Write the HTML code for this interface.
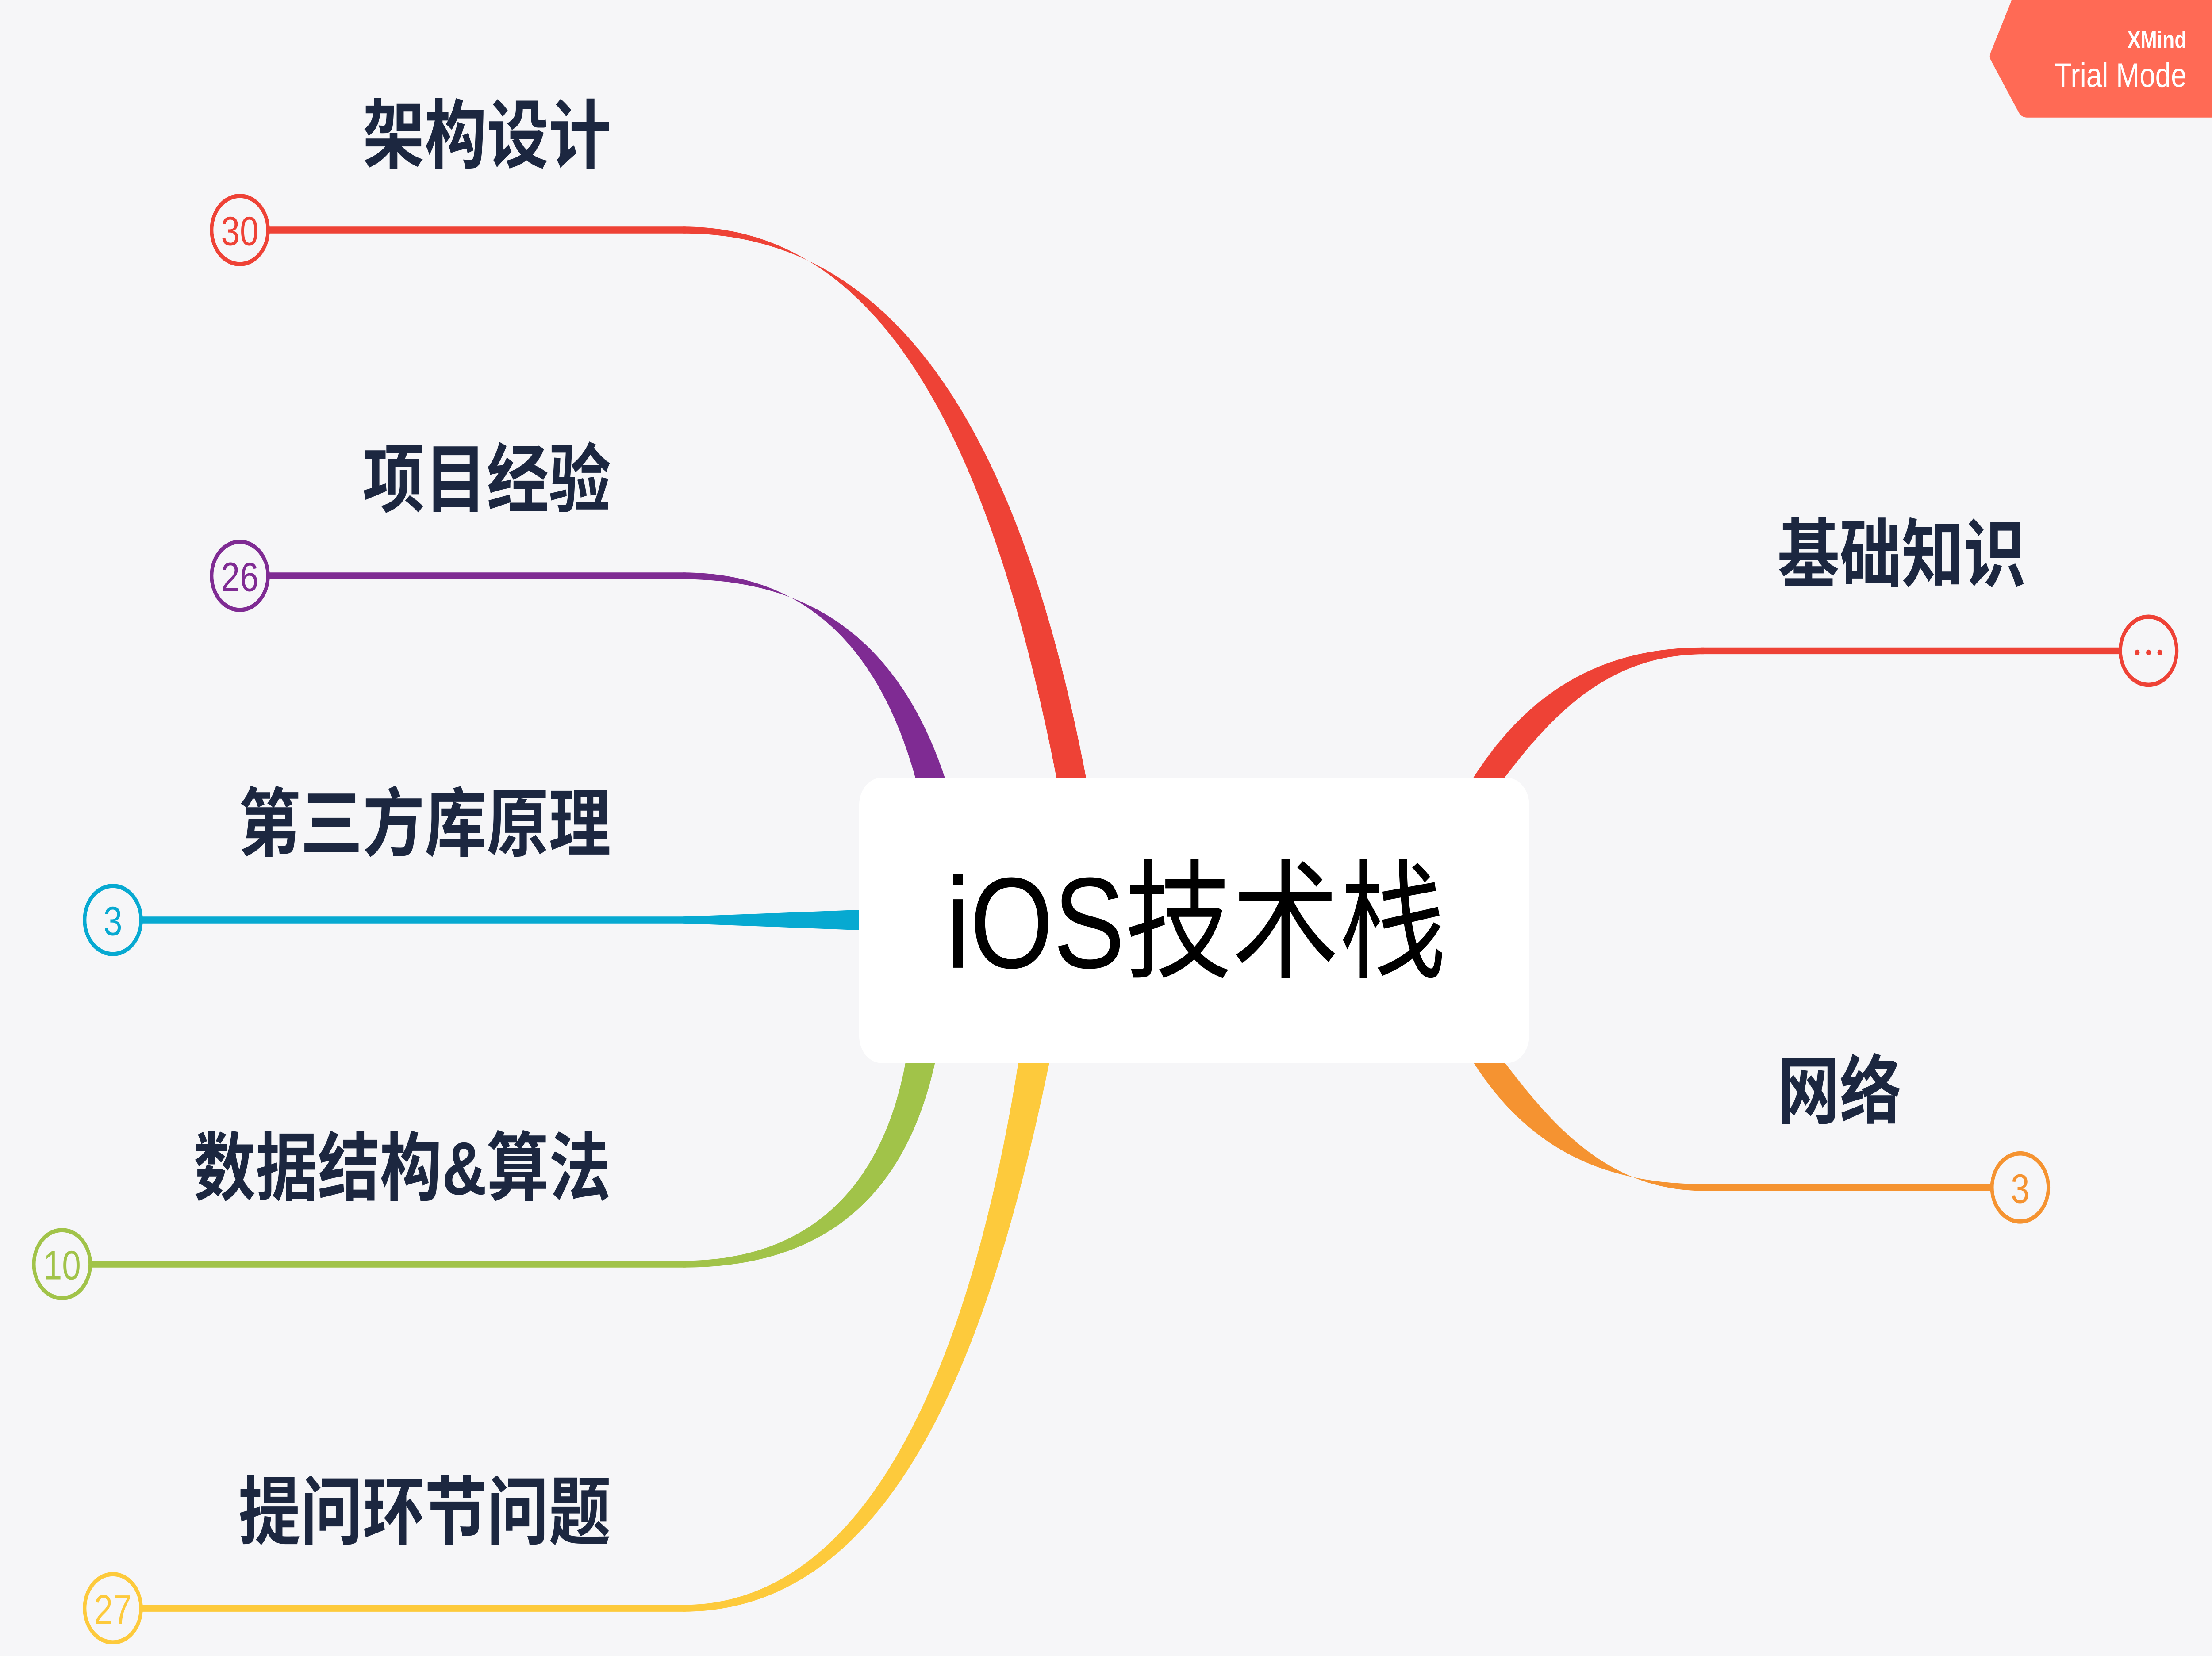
<!DOCTYPE html>
<html><head><meta charset="utf-8"><style>
html,body{margin:0;padding:0;background:#f6f6f8;width:100vw;height:100vh;overflow:hidden;}
svg{display:block;position:absolute;left:0;top:0;width:100vw;height:100vh;}
text{font-family:"Liberation Sans","Noto Sans CJK SC",sans-serif;}
</style></head><body>
<svg viewBox="0 0 1568 972" preserveAspectRatio="none" xmlns="http://www.w3.org/2000/svg">
<rect width="1568" height="972" fill="#f6f6f8"/>
<path d="M484,133 C620,133 700,250 749,457 L770,457 C722,250 632,137 484,137 Z" fill="#ee4236"/>
<path d="M484,336 C560,336 620,370 649,457 L670,457 C636,372 570,340 484,340 Z" fill="#7f2b93"/>
<path d="M484,538 L610,534 L610,546 L484,542 Z" fill="#07a9d1"/>
<path d="M484,740 C570,740 625,700 642,623 L663,623 C640,710 575,744 484,744 Z" fill="#a1c349"/>
<path d="M484,942 C620,942 690,790 722,623 L744,623 C700,800 630,946 484,946 Z" fill="#fdca3c"/>
<path d="M1208,380 C1130,380 1080,410 1044,457 L1066,457 C1100,420 1140,384 1208,384 Z" fill="#ee4236"/>
<path d="M1208,695 C1130,695 1080,670 1044,623 L1066,623 C1100,660 1140,699 1208,699 Z" fill="#f59331"/>
<g stroke-width="4" fill="none">
<line x1="190" y1="135" x2="486" y2="135" stroke="#ee4236"/>
<line x1="190" y1="338" x2="486" y2="338" stroke="#7f2b93"/>
<line x1="100" y1="540" x2="486" y2="540" stroke="#07a9d1"/>
<line x1="64" y1="742" x2="486" y2="742" stroke="#a1c349"/>
<line x1="100" y1="944" x2="486" y2="944" stroke="#fdca3c"/>
<line x1="1206" y1="382" x2="1503" y2="382" stroke="#ee4236"/>
<line x1="1206" y1="697" x2="1412" y2="697" stroke="#f59331"/>
</g>
<g stroke-width="2.5" fill="#f6f6f8">
<circle cx="170" cy="135" r="20" stroke="#ee4236"/>
<circle cx="170" cy="338" r="20" stroke="#7f2b93"/>
<circle cx="80" cy="540" r="20" stroke="#07a9d1"/>
<circle cx="44" cy="742" r="20" stroke="#a1c349"/>
<circle cx="80" cy="944" r="20" stroke="#fdca3c"/>
<circle cx="1523" cy="382" r="20" stroke="#ee4236"/>
<circle cx="1432" cy="697" r="20" stroke="#f59331"/>
</g>
<g font-size="24" text-anchor="middle">
<text x="170" y="144" fill="#ee4236">30</text>
<text x="170" y="347" fill="#7f2b93">26</text>
<text x="80" y="549" fill="#07a9d1">3</text>
<text x="44" y="751" fill="#a1c349">10</text>
<text x="80" y="953" fill="#fdca3c">27</text>
<text x="1432" y="706" fill="#f59331">3</text>
</g>
<g fill="#ee4236"><circle cx="1515" cy="383" r="1.7"/><circle cx="1523" cy="383" r="1.7"/><circle cx="1531" cy="383" r="1.7"/></g>
<g font-size="44" font-weight="bold" fill="#1c2740">
<text x="433" y="95" text-anchor="end">架构设计</text>
<text x="433" y="297" text-anchor="end">项目经验</text>
<text x="433" y="499" text-anchor="end">第三方库原理</text>
<text x="433" y="701" text-anchor="end">数据结构&amp;算法</text>
<text x="433" y="903" text-anchor="end">提问环节问题</text>
<text x="1260" y="341">基础知识</text>
<text x="1260" y="656">网络</text>
</g>
<rect x="609" y="456.5" width="475" height="167.5" rx="16" fill="#ffffff"/>
<text x="848" y="568" font-size="76" text-anchor="middle" fill="#000">iOS技术栈</text>
<path d="M1426,0 L1568,0 L1568,69 L1437,69 Q1433,69 1431,66 L1411,35 Q1410,33 1411,31 Z" fill="#ff6a55"/>
<text x="1550" y="28" font-size="14" font-weight="bold" fill="#fff" text-anchor="end">XMind</text>
<text x="1550" y="51" font-size="20" fill="#fff" text-anchor="end">Trial Mode</text>
</svg>
</body></html>
